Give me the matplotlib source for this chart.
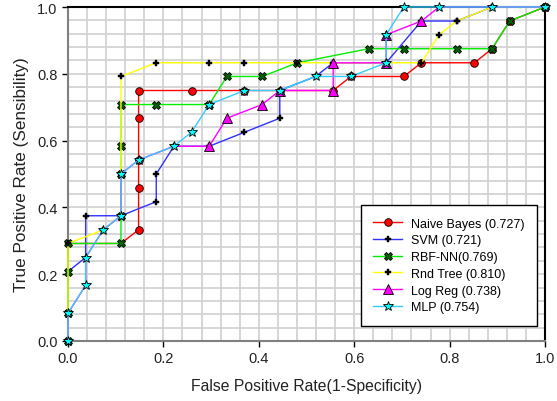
import numpy as np
import matplotlib
matplotlib.use("Agg")
import matplotlib.pyplot as plt

plt.rcParams['font.family'] = ['Liberation Sans', 'DejaVu Sans']

# ---- data (False positive rate / true positive rate) ----
nb_x = [0, 0, 0.111, 0.148, 0.148, 0.148, 0.148, 0.148, 0.259, 0.370, 0.444, 0.556, 0.593, 0.704, 0.741, 0.852, 0.889, 0.926, 1.0]
nb_y = [0, 0.292, 0.292, 0.333, 0.458, 0.542, 0.667, 0.750, 0.750, 0.750, 0.750, 0.750, 0.792, 0.792, 0.833, 0.833, 0.875, 0.958, 1.0]

svm_x = [0, 0, 0.037, 0.037, 0.111, 0.185, 0.185, 0.222, 0.296, 0.370, 0.444, 0.444, 0.519, 0.556, 0.667, 0.741, 0.815, 0.889, 1.0]
svm_y = [0, 0.208, 0.250, 0.375, 0.375, 0.417, 0.500, 0.583, 0.583, 0.625, 0.667, 0.750, 0.792, 0.833, 0.833, 0.958, 0.958, 1.0, 1.0]

rbf_x = [0, 0, 0, 0, 0.111, 0.111, 0.111, 0.111, 0.111, 0.185, 0.296, 0.333, 0.407, 0.481, 0.630, 0.704, 0.815, 0.889, 0.926, 1.0]
rbf_y = [0, 0.083, 0.208, 0.292, 0.292, 0.375, 0.500, 0.583, 0.708, 0.708, 0.708, 0.792, 0.792, 0.833, 0.875, 0.875, 0.875, 0.875, 0.958, 1.0]

rnd_x = [0, 0, 0.074, 0.111, 0.111, 0.185, 0.296, 0.370, 0.481, 0.556, 0.667, 0.741, 0.778, 0.815, 0.889, 1.0]
rnd_y = [0, 0.292, 0.333, 0.375, 0.792, 0.833, 0.833, 0.833, 0.833, 0.833, 0.833, 0.833, 0.917, 0.958, 1.0, 1.0]

lr_x = [0, 0, 0.037, 0.037, 0.074, 0.111, 0.111, 0.148, 0.222, 0.296, 0.333, 0.407, 0.444, 0.556, 0.556, 0.667, 0.667, 0.741, 0.778, 1.0]
lr_y = [0, 0.083, 0.167, 0.250, 0.333, 0.375, 0.500, 0.542, 0.583, 0.583, 0.667, 0.708, 0.750, 0.750, 0.833, 0.833, 0.917, 0.958, 1.0, 1.0]

mlp_x = [0, 0, 0.037, 0.037, 0.074, 0.111, 0.111, 0.148, 0.222, 0.259, 0.296, 0.370, 0.444, 0.519, 0.593, 0.667, 0.667, 0.704, 0.778, 0.889, 1.0]
mlp_y = [0, 0.083, 0.167, 0.250, 0.333, 0.375, 0.500, 0.542, 0.583, 0.625, 0.708, 0.750, 0.750, 0.792, 0.792, 0.833, 0.917, 1.0, 1.0, 1.0, 1.0]

labels = ["Naive Bayes (0.727)", "SVM (0.721)", "RBF-NN(0.769)", "Rnd Tree (0.810)", "Log Reg (0.738)", "MLP (0.754)"]
ticks = [0.0, 0.2, 0.4, 0.6, 0.8, 1.0]
tick_labels = ["0.0", "0.2", "0.4", "0.6", "0.8", "1.0"]

fig = plt.figure(figsize=(5.57, 4.02), dpi=100)
ax = fig.add_axes([68/557, 60/402, 477/557, 334/402])

common = dict(linewidth=1.0, clip_on=False)
ax.plot(nb_x, nb_y, color='#ff0000', marker='o', markersize=5.5, markerfacecolor='#ff0000',
        markeredgecolor='black', markeredgewidth=0.6, markevery=list(range(3, len(nb_x))),
        label=labels[0], zorder=3, **common)
ax.plot(svm_x, svm_y, color='#3030ff', marker='P', markersize=4.5, markerfacecolor='black',
        markeredgecolor='black', markeredgewidth=0.3, markevery=list(range(2, len(svm_x))),
        label=labels[1], zorder=3, **common)
ax.plot(rbf_x, rbf_y, color='#00ee00', marker='X', markersize=5.5, markerfacecolor='#006400',
        markeredgecolor='black', markeredgewidth=0.6, label=labels[2], zorder=3, **common)
ax.plot(rnd_x, rnd_y, color='#ffff00', marker='P', markersize=4.5, markerfacecolor='black',
        markeredgecolor='black', markeredgewidth=0.3, label=labels[3], zorder=3, **common)
ax.plot(lr_x, lr_y, color='#ff00ff', marker='^', markersize=7, markerfacecolor='#ff00ff',
        markeredgecolor='black', markeredgewidth=0.6, markevery=list(range(9, len(lr_x) - 2)),
        label=labels[4], zorder=3, **common)
ax.plot(mlp_x, mlp_y, color='#33ccff', marker='*', markersize=7, markerfacecolor='#00ffff',
        markeredgecolor='black', markeredgewidth=0.6, label=labels[5], zorder=3, **common)

ax.set_xlim(0, 1)
ax.set_ylim(0, 1)
ax.set_xticks(ticks)
ax.set_xticklabels(tick_labels)
ax.set_yticks(ticks)
ax.set_yticklabels(tick_labels)
ax.set_xticks(np.arange(0, 1.0001, 0.04), minor=True)
ax.set_yticks(np.arange(0, 1.0001, 0.04), minor=True)
ax.grid(True, which='both', color='#d0d0d0', linewidth=1.2)
ax.set_axisbelow(True)
ax.tick_params(which='minor', length=0)
ax.tick_params(which='major', direction='out', length=4, width=1, labelsize=10.5, colors='black',
               labelcolor='#222222')
for side in ['left', 'bottom']:
    ax.spines[side].set_color('#808080')
    ax.spines[side].set_linewidth(1.5)
for side in ['top', 'right']:
    ax.spines[side].set_color('black')
    ax.spines[side].set_linewidth(1.5)

ax.set_xlabel("False Positive Rate(1-Specificity)", fontsize=11.3, color='#222222', labelpad=9)
ax.set_ylabel("True Positive Rate (Sensibility)", fontsize=12.3, color='#222222', labelpad=6)

leg = ax.legend(loc='upper left', bbox_to_anchor=(0.6136, 0.407), fontsize=9, frameon=True,
                fancybox=False, shadow=False, edgecolor='black', framealpha=1,
                handlelength=2.3, labelspacing=0.38, borderpad=1.0, handletextpad=0.75,
                borderaxespad=0)
leg.get_frame().set_linewidth(1.0)
for h in leg.legend_handles:
    h.set_markevery([1])

fig.savefig("out.png", dpi=100)
